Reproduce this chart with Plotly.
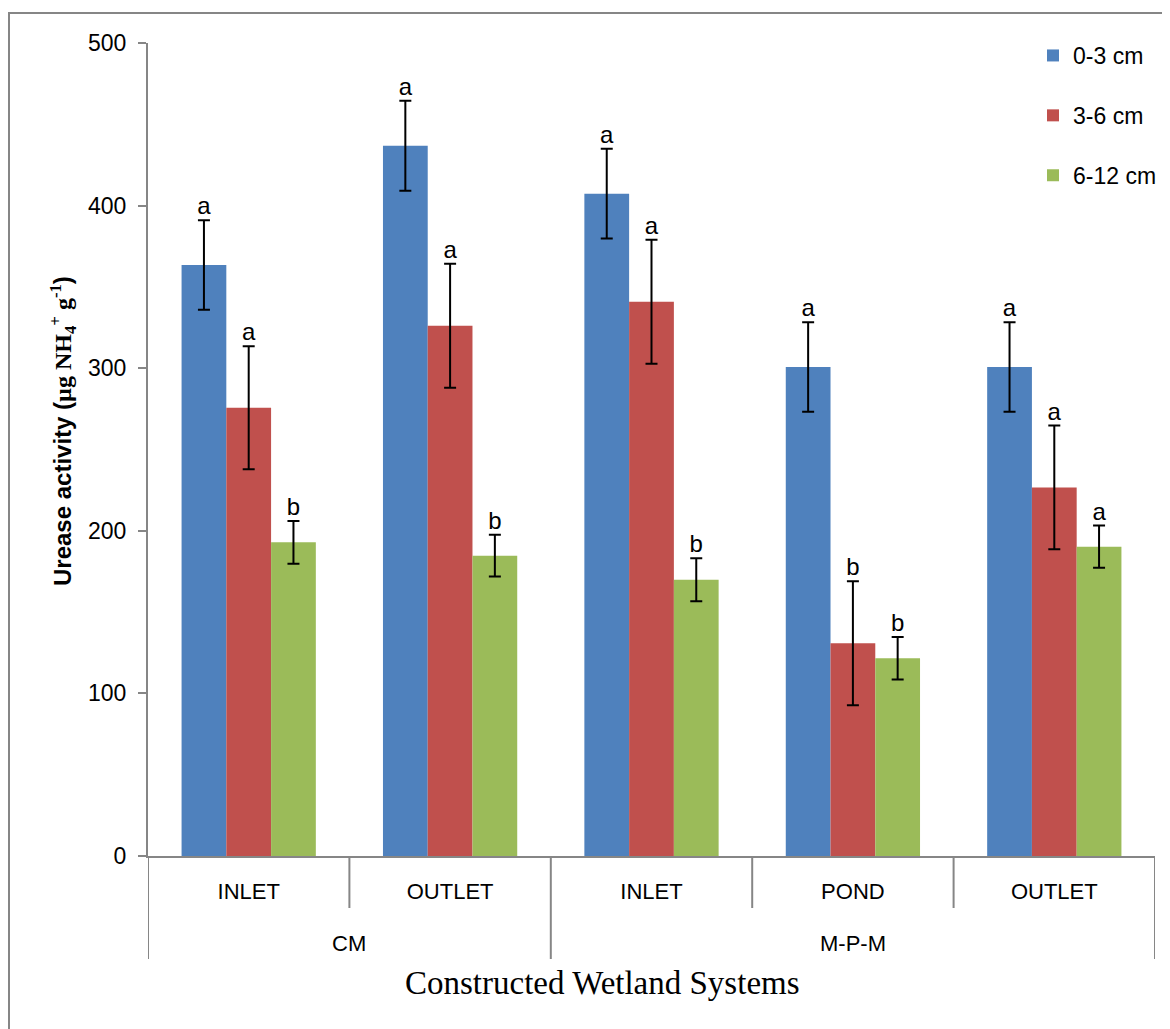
import plotly.graph_objects as go

# ---- data ----
systems = ["CM", "CM", "M-P-M", "M-P-M", "M-P-M"]
locations = ["INLET", "OUTLET", "INLET", "POND", "OUTLET"]

series_names = ["0-3 cm", "3-6 cm", "6-12 cm"]
depth_0_3 = [363.5, 436.8, 407.3, 300.7, 300.7]
depth_3_6 = [275.7, 326.1, 340.9, 130.8, 226.7]
depth_6_12 = [192.9, 184.7, 169.9, 121.6, 190.2]

err_0_3 = [27.5, 27.7, 27.6, 27.5, 27.5]
err_3_6 = [37.8, 38.2, 38.1, 38.1, 38.0]
err_6_12 = [13.2, 12.8, 13.2, 13.1, 13.0]

letters_0_3 = ["a", "a", "a", "a", "a"]
letters_3_6 = ["a", "a", "a", "b", "a"]
letters_6_12 = ["b", "b", "b", "b", "a"]

y_ticks = [0, 100, 200, 300, 400, 500]

# ---- styling ----
colors = ["#4F81BD", "#C0504D", "#9BBB59"]
GREY = "#868686"
SANS = "Liberation Sans, Arial, sans-serif"
SERIF = "Liberation Serif, Times New Roman, serif"

values = [depth_0_3, depth_3_6, depth_6_12]
errors = [err_0_3, err_3_6, err_6_12]
letters = [letters_0_3, letters_3_6, letters_6_12]
xpos = list(range(len(locations)))

fig = go.Figure()
for i in range(3):
    fig.add_trace(go.Bar(
        x=xpos, y=values[i], name=series_names[i],
        marker=dict(color=colors[i], line=dict(width=0)),
        offsetgroup=str(i), legendgroup=str(i),
        error_y=dict(type="data", array=errors[i], color="black",
                     thickness=2, width=6),
    ))
for i in range(3):
    tops = [v + e for v, e in zip(values[i], errors[i])]
    fig.add_trace(go.Scatter(
        x=xpos, y=tops, mode="text", text=letters[i],
        textposition="top center", offsetgroup=str(i),
        textfont=dict(family=SANS, size=24, color="black"),
        showlegend=False, hoverinfo="skip",
    ))

# figure geometry (page body adds 8px offset)
W, H = 1162, 1021
L, R, T, B = 140, 15, 35, 173
pw, ph = W - L - R, H - T - B

def px_x(p):
    return (p - L) / pw

def px_y(p):
    return (H - B - p) / ph

# group structure (outer labels and divider lines) derived from the data
groups = []
for idx, s in enumerate(systems):
    if groups and groups[-1][0] == s:
        groups[-1][1].append(idx)
    else:
        groups.append([s, [idx]])

shapes = []
outer_bounds = set()
for name, idxs in groups:
    outer_bounds.add(idxs[0] - 0.5)
    outer_bounds.add(idxs[-1] + 0.5)
all_bounds = [i - 0.5 for i in range(len(locations) + 1)]
for b in all_bounds:
    depth = 951 if b in outer_bounds else 900
    shapes.append(dict(type="line", xref="x", yref="paper", x0=b, x1=b,
                       y0=0, y1=px_y(depth), line=dict(color=GREY, width=2)))
# outer frame (top / left visible)
shapes.append(dict(type="rect", xref="paper", yref="paper",
                   x0=px_x(1), x1=px_x(1250), y0=px_y(1100), y1=px_y(5),
                   line=dict(color=GREY, width=2), fillcolor="rgba(0,0,0,0)",
                   layer="below"))

annotations = []
for name, idxs in groups:
    annotations.append(dict(
        text=name, xref="x", yref="paper", x=sum(idxs) / len(idxs),
        y=px_y(935), xanchor="center", yanchor="middle", showarrow=False,
        font=dict(family=SANS, size=22, color="black")))
annotations.append(dict(
    text="Constructed Wetland Systems", xref="paper", yref="paper",
    x=px_x(594), y=px_y(975), xanchor="center", yanchor="middle",
    showarrow=False, font=dict(family=SERIF, size=33, color="black")))
annotations.append(dict(
    text=("<b>Urease activity (<span style='font-family:Liberation Serif'>"
          "µg NH<sub>4</sub><sup>+</sup> g<sup>-1</sup></span>)</b>"),
    xref="paper", yref="paper", x=px_x(55), y=px_y(423),
    xanchor="center", yanchor="middle", textangle=-90, showarrow=False,
    font=dict(family=SANS, size=24, color="black")))

fig.update_layout(
    width=W, height=H,
    margin=dict(l=L, r=R, t=T, b=B, autoexpand=False),
    paper_bgcolor="white", plot_bgcolor="white",
    barmode="group", bargap=1.5 / 4.5, bargroupgap=0,
    scattermode="group", scattergap=1.5 / 4.5,
    showlegend=True,
    legend=dict(x=px_x(1025), y=px_y(26), xanchor="left", yanchor="top",
                font=dict(family=SANS, size=23, color="black"),
                tracegroupgap=27, bgcolor="rgba(0,0,0,0)"),
    xaxis=dict(
        range=[-0.5, len(locations) - 0.5], tickvals=xpos, ticktext=locations,
        showline=True, linecolor=GREY, linewidth=2, ticks="",
        ticklabelstandoff=15,
        tickfont=dict(family=SANS, size=22, color="black"),
        showgrid=False, zeroline=False,
    ),
    yaxis=dict(
        range=[0, 500], tickvals=y_ticks, showline=True, linecolor=GREY,
        linewidth=2, ticks="outside", ticklen=8, tickcolor=GREY, tickwidth=2,
        tickfont=dict(family=SANS, size=23, color="black"),
        ticklabelstandoff=7, showgrid=False, zeroline=False,
    ),
    font=dict(family=SANS),
    shapes=shapes,
    annotations=annotations,
)

fig.write_html("out.html")
